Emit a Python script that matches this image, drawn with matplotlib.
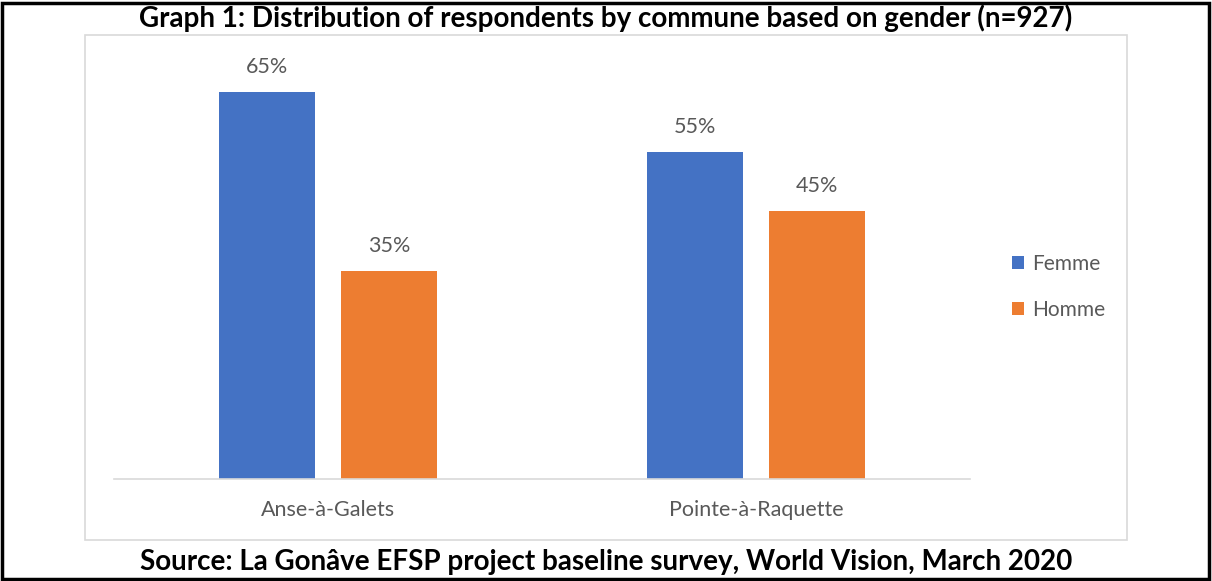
import numpy as np
import matplotlib.pyplot as plt
from matplotlib.patches import Rectangle

# Data
communes = ['Anse-à-Galets', 'Pointe-à-Raquette']
femme = [65, 55]
homme = [35, 45]
series_names = ['Femme', 'Homme']

title = 'Graph 1: Distribution of respondents by commune based on gender (n=927)'
source = 'Source: La Gonâve EFSP project baseline survey, World Vision, March 2020'

W, H = 1212, 581
blue = '#4472c4'
orange = '#ed7d31'
grey_txt = '#595959'

plt.rcParams['font.family'] = ['Lato', 'DejaVu Sans']

fig = plt.figure(figsize=(W / 100, H / 100), dpi=100)

# outer black frame and light grey chart frame
fig.patches.append(Rectangle((2 / W, 2 / H), (W - 5) / W, (H - 5) / H, transform=fig.transFigure,
                             fill=False, edgecolor='black', linewidth=2.5))
fig.patches.append(Rectangle((85 / W, (H - 540) / H), (1127 - 85) / W, (540 - 35) / H,
                             transform=fig.transFigure, fill=False, edgecolor='#d9d9d9', linewidth=1.2))

# plot area in pixel terms: x 114..970, baseline at y=479, 70% at y~62
ax = fig.add_axes([114 / W, (H - 479) / H, (970 - 114) / W, (479 - 62.5) / H])
x = np.arange(len(communes))
bw = 0.224
off = (bw + 0.063) / 2
b1 = ax.bar(x - off, femme, bw, color=blue, label=series_names[0])
b2 = ax.bar(x + off, homme, bw, color=orange, label=series_names[1])
for bars, vals in ((b1, femme), (b2, homme)):
    for rect, v in zip(bars, vals):
        ax.annotate(f'{v}%', (rect.get_x() + rect.get_width() / 2, v), xytext=(0, 18),
                    textcoords='offset points', ha='center', va='center',
                    fontsize=15.5, color=grey_txt)

ax.set_xlim(-0.5, 1.5)
ax.set_ylim(0, 70)
ax.set_yticks([])
ax.set_xticks(x, communes)
ax.tick_params(axis='x', length=0, pad=15, labelsize=15.5, labelcolor=grey_txt)
for s in ('top', 'right', 'left'):
    ax.spines[s].set_visible(False)
ax.spines['bottom'].set_color('#d9d9d9')
ax.spines['bottom'].set_linewidth(1.2)

fig.legend(handles=[b1, b2], labels=series_names, loc='center left',
           bbox_to_anchor=(993 / W, (H - 287) / H), frameon=False, fontsize=15,
           labelcolor=grey_txt, handlelength=0.6, handleheight=0.6, handletextpad=0.4,
           labelspacing=1.25)

fig.text(0.5, (H - 18) / H, title, ha='center', va='center', fontsize=20, fontweight='bold')
fig.text(0.5, (H - 562) / H, source, ha='center', va='center', fontsize=20, fontweight='bold')

fig.savefig('out.png', dpi=100)
